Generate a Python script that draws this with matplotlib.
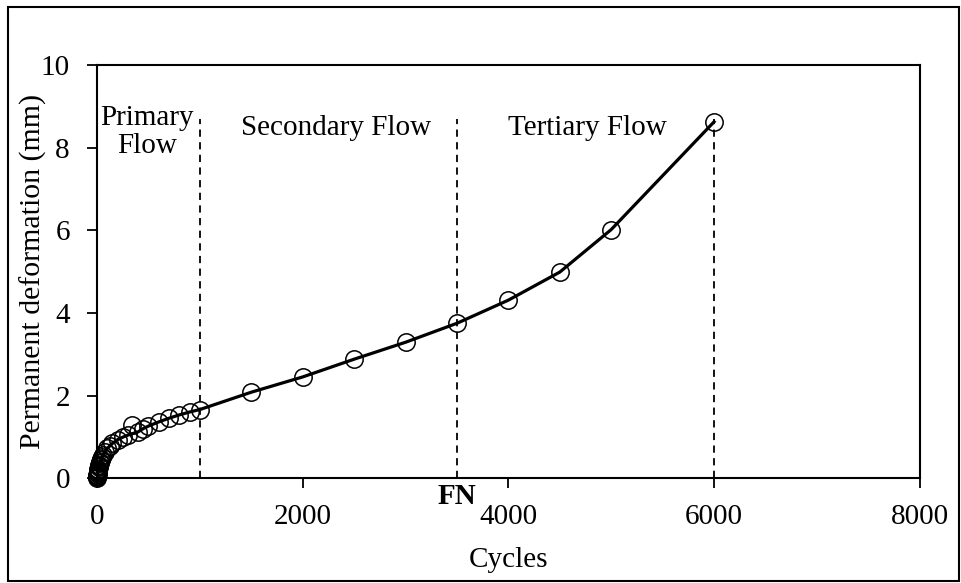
import matplotlib
matplotlib.use('Agg')
import matplotlib.pyplot as plt
from matplotlib.patches import Rectangle
import numpy as np

# data
cycles = [0, 1, 2, 3, 4, 5, 6, 7, 8, 9, 10, 12, 15, 18, 20, 25, 30, 35, 40, 50, 60, 75,
          100, 125, 150, 200, 250, 300, 340, 400, 450, 500, 600, 700, 800, 900, 1000,
          1500, 2000, 2500, 3000, 3500, 4000, 4500, 5000, 6000]
deform = [0.0, 0.02, 0.04, 0.06, 0.08, 0.10, 0.12, 0.14, 0.16, 0.18, 0.20, 0.23, 0.27,
          0.30, 0.32, 0.36, 0.40, 0.43, 0.46, 0.52, 0.57, 0.63, 0.72, 0.78, 0.84, 0.93,
          0.99, 1.04, 1.28, 1.12, 1.20, 1.26, 1.36, 1.45, 1.53, 1.60, 1.66, 2.08, 2.45,
          2.88, 3.29, 3.75, 4.31, 4.99, 6.02, 8.63]
# the fitted curve skips the scattered point at 340 cycles
on_curve = [c != 340 for c in cycles]

stage_bounds = [1000, 3500, 6000]
stage_top = 8.7
stage_names = ['Primary\nFlow', 'Secondary Flow', 'Tertiary Flow']
stage_label_x = [490, 2323, 4770]
stage_label_y = [8.38, 8.47, 8.47]
fn_cycle = 3500

plt.rcParams['font.family'] = ['Liberation Serif']
plt.rcParams['font.size'] = 21

fig = plt.figure(figsize=(9.61, 5.83), dpi=100)
ax = fig.add_axes([0.101, 0.180, 0.856, 0.708])

cx = np.array(cycles)[on_curve]
cy = np.array(deform)[on_curve]
ax.plot(cx, cy, color='black', lw=2.3, zorder=3)
ax.plot(cycles, deform, 'o', mfc='none', mec='black', ms=12.5, mew=1.1, zorder=4,
        clip_on=False)

for b in stage_bounds:
    ax.plot([b, b], [0, stage_top], color='black', lw=1.3, ls=(0, (4, 3)), zorder=2)

for name, lx, ly in zip(stage_names, stage_label_x, stage_label_y):
    ax.text(lx, ly, name, ha='center', va='center', fontsize=21, linespacing=1.1)

ax.text(fn_cycle, -0.12, 'FN', ha='center', va='top', fontsize=21,
        fontweight='bold', clip_on=False)

ax.set_xlim(0, 8000)
ax.set_ylim(0, 10)
ax.set_xticks([0, 2000, 4000, 6000, 8000])
ax.set_yticks([0, 2, 4, 6, 8, 10])
ax.tick_params(direction='out', length=7.5, width=1.3, labelsize=21)
ax.tick_params(axis='x', pad=11)
ax.tick_params(axis='y', pad=12)
for s in ax.spines.values():
    s.set_linewidth(1.5)
ax.set_xlabel('Cycles', fontsize=21, va='center')
ax.set_ylabel('Permanent deformation (mm)', fontsize=21.5, va='center')
ax.xaxis.set_label_coords(0.5, -0.199)
ax.yaxis.set_label_coords(-0.077, 0.5)

# outer border
fig.patches.append(Rectangle((0.008, 0.003), 0.99, 0.985, transform=fig.transFigure,
                             fill=False, ec='black', lw=1.5))

plt.savefig('out.png', dpi=100)
plt.close(fig)
